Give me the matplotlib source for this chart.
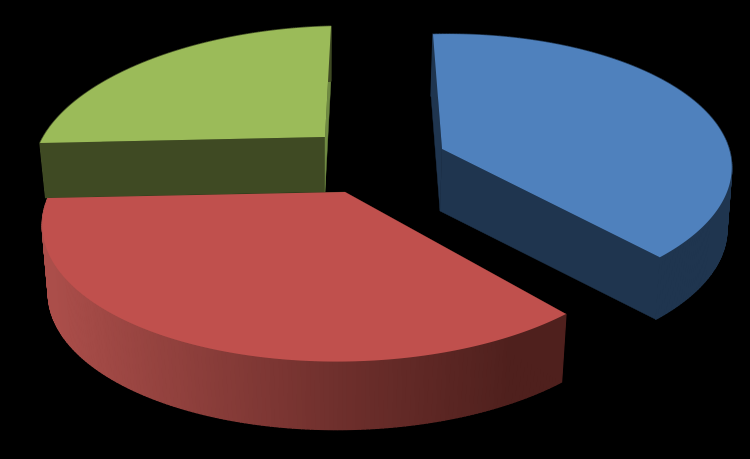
import matplotlib
matplotlib.use('Agg')
from matplotlib import pyplot as plt
from matplotlib.colors import LinearSegmentedColormap
from matplotlib.patches import Polygon
import numpy as np

names = ['Blue', 'Red', 'Green']
values = [38.6, 36.4, 25]
top_colors = ['#4F81BD', '#C0504D', '#9BBB59']
wall_colors = ['#1F354F', None, '#3F4A23']
start_colors = ['#1F354F', '#4F201D', '#3F4A23']
end_colors = ['#1F354F', '#3F4A23', '#6F8A42']

# apex x, apex y, rx, ry, perspective, lean, depth, bottom apex x, bottom x scale, start shift
geometry = {
    'Blue': (442, 150, 285, 132, 0.15, -9, 62, 440, 0.99, 0),
    'Red': (345, 193, 297, 135.6, 0.20, -2, 68, 345, 0.98, 2.5),
    'Green': (325, 138, 285, 133, 0.20, 6, 55, 325, 0.98, 0),
}
TILT = 6

red_shade = LinearSegmentedColormap.from_list(
    'red_wall', [(0.0, '#AB4E4A'), (0.57, '#6E2F2C'), (0.9, '#4F201D'), (1.0, '#4F201D')])


def project(name, theta, bottom=False):
    ax0, ay0, rx, ry, k, lean, depth, bx0, sx, shift = geometry[name]
    u = np.sin(theta)
    v = np.cos(theta)
    w = 1 + k*v
    if bottom:
        x = bx0 + sx*(rx*u/w + lean*v)
        y = ay0 + depth - ry*v/w - TILT*u
    else:
        x = ax0 + rx*u/w + lean*v
        y = ay0 - ry*v/w - TILT*u
    return x, y


def apex(name, bottom=False):
    ax0, ay0, rx, ry, k, lean, depth, bx0, sx, shift = geometry[name]
    if bottom:
        return bx0, ay0 + depth
    return ax0, ay0


fig = plt.figure(figsize=(7.5, 4.6), dpi=100, facecolor='black')
ax = fig.add_axes([0, 0, 1, 1])
ax.set_xlim(0, 750)
ax.set_ylim(460, 0)
ax.axis('off')

edges = np.concatenate([[0], np.cumsum(values)/np.sum(values)*360])

for i in [2, 0, 1]:
    name = names[i]
    thetas = np.radians(np.linspace(edges[i] + geometry[name][9], edges[i+1], 181))
    xt, yt = project(name, thetas)
    xb, yb = project(name, thetas, bottom=True)
    a_top = apex(name)
    a_bot = apex(name, bottom=True)

    # radial walls
    for j, color in [(0, start_colors[i]), (-1, end_colors[i])]:
        quad = [a_top, (xt[j], yt[j]), (xb[j], yb[j]), a_bot]
        ax.add_patch(Polygon(quad, closed=True, facecolor=color, edgecolor=color, lw=0.3))

    # outer wall in strips, the sweep folds over at the sides of the ellipse
    for j in range(len(thetas)-1):
        quad = [(xt[j], yt[j]), (xt[j+1], yt[j+1]), (xb[j+1], yb[j+1]), (xb[j], yb[j])]
        if wall_colors[i] is None:
            color = red_shade((xt[j]-50)/(565-50))
        else:
            color = wall_colors[i]
        ax.add_patch(Polygon(quad, closed=True, facecolor=color, edgecolor=color, lw=1.0))

    ax.add_patch(Polygon(np.column_stack([np.r_[a_top[0], xt], np.r_[a_top[1], yt]]),
                         closed=True, facecolor=top_colors[i], edgecolor='none', zorder=3))

fig.savefig('out.png', dpi=100, facecolor='black')
